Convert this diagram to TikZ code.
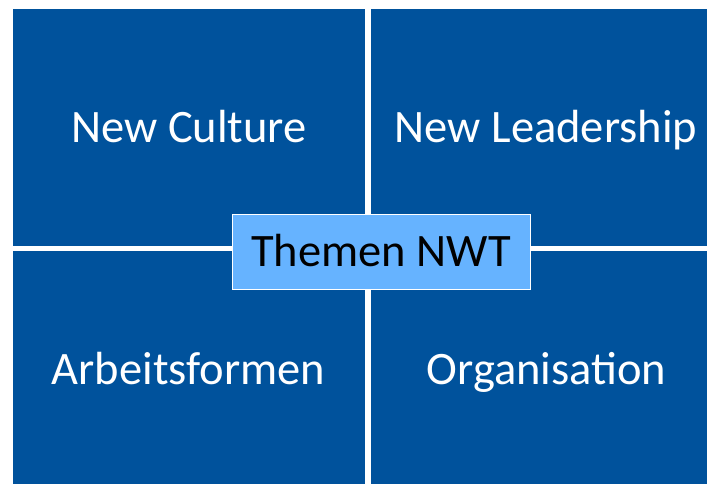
\documentclass[tikz,border=0pt]{standalone}
\usepackage{fontspec}
\setmainfont{Carlito}
\definecolor{quad}{HTML}{00529C}
\definecolor{centerblue}{HTML}{66B3FF}
\begin{document}
\begin{tikzpicture}[x=1pt,y=-1pt,
  quadbox/.style={fill=quad,draw=none,inner sep=0pt,outer sep=0pt},
  quadtext/.style={text=white,font=\fontsize{46.5}{55}\selectfont,inner sep=0pt,anchor=base},
  centerbox/.style={fill=centerblue,draw=white,line width=1pt,minimum width=298pt,minimum height=75pt,inner sep=0pt,text height=40pt,text depth=11pt,font=\fontsize{46.5}{55}\selectfont,text=black}]
\useasboundingbox (0,0) rectangle (707,484);
\fill[white] (0,0) rectangle (707,484);
\path[quadbox] (13,9) rectangle (365,246);
\path[quadbox] (371,9) rectangle (707,246);
\path[quadbox] (13,251) rectangle (365,484);
\path[quadbox] (371,251) rectangle (707,484);
\node[quadtext] (nc) at (189,143) {New Culture};
\node[quadtext] (nl) at (546,143) {New Leadership};
\node[quadtext] (af) at (188.5,384) {Arbeitsformen};
\node[quadtext] (org) at (546.5,384) {Organisation};
\node[centerbox] (nwt) at (381,251.5) {Themen NWT};
\end{tikzpicture}
\end{document}
